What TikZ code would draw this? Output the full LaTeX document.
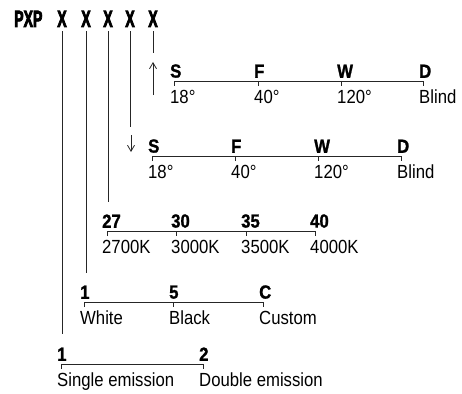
\documentclass[tikz,border=0pt]{standalone}
\usepackage{fontspec}
\setmainfont{Liberation Sans}[FakeStretch=0.88,BoldFeatures={FakeBold=1.2}]
\newfontfamily\partfont{Liberation Sans Bold}[FakeStretch=0.6,FakeBold=3]
\usetikzlibrary{arrows.meta,positioning}

\begin{document}
\begin{tikzpicture}[x=1pt,y=-1pt,inner sep=0pt,
  code/.style={font=\fontsize{19}{21}\selectfont\bfseries,text height=13.5pt},
  desc/.style={font=\fontsize{19}{21}\selectfont,text height=13.5pt,text depth=4pt},
  digit/.style={anchor=base,inner ysep=4pt,font=\fontsize{23.5}{25}\selectfont\partfont},
  rule/.style={line width=.8pt,black!85},
  flow/.style={rule,-{Straight Barb[length=6pt,width=7pt]}}]
\useasboundingbox (0,0) rectangle (462,393);
% part number
\node[digit,anchor=base west] (pxp) at (14,27) {PXP};
\node[digit] (x1) at (62,27) {X};
\node[digit] (x2) at (86,27) {X};
\node[digit] (x3) at (108,27) {X};
\node[digit] (x4) at (130,27) {X};
\node[digit] (x5) at (153,27) {X};
\coordinate (e1) at (62,334);
\coordinate (e2) at (86,273);
\coordinate (e3) at (108,202);
\coordinate (e4) at (130,127);
\coordinate (e5) at (153,53);
\draw[rule] (x1.south)--(e1);
\draw[rule] (x2.south)--(e2);
\draw[rule] (x3.south)--(e3);
\draw[rule] (x4.south)--(e4);
\draw[rule] (x5.south)--(e5);
\coordinate (ua) at (153,95);
\coordinate (ub) at (153,62);
\coordinate (da) at (131,135);
\coordinate (db) at (131,152);
\draw[flow] (ua)--(ub);
\draw[flow] (da)--(db);
% upper beam
\coordinate (up1) at (174,81);
\coordinate (up2) at (258,81);
\coordinate (up3) at (341,81);
\coordinate (up4) at (423,81);
\node[code,above right=3pt and -4pt of up1] (upc1) {S};
\node[code,above right=3pt and -4pt of up2] (upc2) {F};
\node[code,above right=3pt and -4pt of up3] (upc3) {W};
\node[code,above right=3pt and -4pt of up4] (upc4) {D};
\node[desc,below right=9pt and -4pt of up1] (upd1) {18°};
\node[desc,below right=9pt and -4pt of up2] (upd2) {40°};
\node[desc,below right=9pt and -4pt of up3] (upd3) {120°};
\node[desc,below right=9pt and -4pt of up4] (upd4) {Blind};
\draw[rule] (up1) ++(0,5)--(up1)--(up4)--++(0,5);
\draw[rule] (up2)--++(0,5);
\draw[rule] (up3)--++(0,5);
% lower beam
\coordinate (dn1) at (152,156);
\coordinate (dn2) at (235,156);
\coordinate (dn3) at (318,156);
\coordinate (dn4) at (401,156);
\node[code,above right=3pt and -4pt of dn1] (dnc1) {S};
\node[code,above right=3pt and -4pt of dn2] (dnc2) {F};
\node[code,above right=3pt and -4pt of dn3] (dnc3) {W};
\node[code,above right=3pt and -4pt of dn4] (dnc4) {D};
\node[desc,below right=9pt and -4pt of dn1] (dnd1) {18°};
\node[desc,below right=9pt and -4pt of dn2] (dnd2) {40°};
\node[desc,below right=9pt and -4pt of dn3] (dnd3) {120°};
\node[desc,below right=9pt and -4pt of dn4] (dnd4) {Blind};
\draw[rule] (dn1) ++(0,5)--(dn1)--(dn4)--++(0,5);
\draw[rule] (dn2)--++(0,5);
\draw[rule] (dn3)--++(0,5);
% colour temperature
\coordinate (cct1) at (107,231);
\coordinate (cct2) at (176,231);
\coordinate (cct3) at (246,231);
\coordinate (cct4) at (315,231);
\node[code,above right=3pt and -5pt of cct1] (cctc1) {27};
\node[code,above right=3pt and -5pt of cct2] (cctc2) {30};
\node[code,above right=3pt and -5pt of cct3] (cctc3) {35};
\node[code,above right=3pt and -5pt of cct4] (cctc4) {40};
\node[desc,below right=9pt and -5pt of cct1] (cctd1) {2700K};
\node[desc,below right=9pt and -5pt of cct2] (cctd2) {3000K};
\node[desc,below right=9pt and -5pt of cct3] (cctd3) {3500K};
\node[desc,below right=9pt and -5pt of cct4] (cctd4) {4000K};
\draw[rule] (cct1) ++(0,5)--(cct1)--(cct4)--++(0,5);
\draw[rule] (cct2)--++(0,5);
\draw[rule] (cct3)--++(0,5);
% finish
\coordinate (fin1) at (84,302);
\coordinate (fin2) at (173,302);
\coordinate (fin3) at (263,302);
\node[code,above right=3pt and -4pt of fin1] (finc1) {1};
\node[code,above right=3pt and -4pt of fin2] (finc2) {5};
\node[code,above right=3pt and -4pt of fin3] (finc3) {C};
\node[desc,below right=9pt and -4pt of fin1] (find1) {White};
\node[desc,below right=9pt and -4pt of fin2] (find2) {Black};
\node[desc,below right=9pt and -4pt of fin3] (find3) {Custom};
\draw[rule] (fin1) ++(0,5)--(fin1)--(fin3)--++(0,5);
\draw[rule] (fin2)--++(0,5);
% emission
\coordinate (em1) at (61,364);
\coordinate (em2) at (203,364);
\node[code,above right=3pt and -4pt of em1] (emc1) {1};
\node[code,above right=3pt and -4pt of em2] (emc2) {2};
\node[desc,below right=9pt and -4pt of em1] (emd1) {Single emission};
\node[desc,below right=9pt and -4pt of em2] (emd2) {Double emission};
\draw[rule] (em1) ++(0,5)--(em1)--(em2)--++(0,5);
\end{tikzpicture}
\end{document}
